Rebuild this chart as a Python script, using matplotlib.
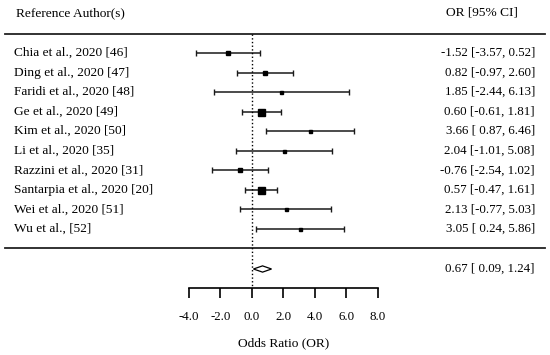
import matplotlib
matplotlib.use('Agg')
from matplotlib import pyplot as plt
from matplotlib.patches import Polygon

plt.rcParams['font.family'] = ['Liberation Serif', 'DejaVu Serif']
plt.rcParams['axes.unicode_minus'] = False

# 数据
studies = ['Chia et al., 2020 [46]', 'Ding et al., 2020 [47]', 'Faridi et al., 2020 [48]',
           'Ge et al., 2020 [49]', 'Kim et al., 2020 [50]', 'Li et al., 2020 [35]',
           'Razzini et al., 2020 [31]', 'Santarpia et al., 2020 [20]', 'Wei et al., 2020 [51]',
           'Wu et al., [52]']
odds = [-1.52, 0.82, 1.85, 0.60, 3.66, 2.04, -0.76, 0.57, 2.13, 3.05]
ci_low = [-3.57, -0.97, -2.44, -0.61, 0.87, -1.01, -2.54, -0.47, -0.77, 0.24]
ci_high = [0.52, 2.60, 6.13, 1.81, 6.46, 5.08, 1.02, 1.61, 5.03, 5.86]
pooled = 0.67
pooled_low = 0.09
pooled_high = 1.24
xticks = [-4.0, -2.0, 0.0, 2.0, 4.0, 6.0, 8.0]

# 方块大小 (px)
box_px = [4, 4, 3, 7, 3, 3, 4, 7, 3, 3]

W, H = 550, 355
fig = plt.figure(figsize=(W / 100, H / 100), dpi=100)
ax = fig.add_axes([0, 0, 1, 1])

# 像素 -> 数据坐标
x0_px, unit_px = 252, 15.75
row0_px, row_px = 53, 19.55
ax.set_xlim(-x0_px / unit_px, (W - x0_px) / unit_px)
ax.set_ylim((H - row0_px) / row_px, -row0_px / row_px)

def ry(py):
    return (py - row0_px) / row_px

def rx(px):
    return (px - x0_px) / unit_px

fs = 9.6   # 文字
fs_num = 9.3  # 数字列

n = len(studies)
for i in range(n):
    ax.errorbar(odds[i], i, xerr=[[odds[i] - ci_low[i]], [ci_high[i] - odds[i]]], fmt='none',
                ecolor='#1a1a1a', elinewidth=1.1, capsize=2.2, capthick=1.0)
    ax.plot(odds[i], i, marker='s', color='black', markersize=box_px[i] * 0.72, linestyle='none')
    ax.text(rx(14), i, studies[i], ha='left', va='center', fontsize=fs)
    ax.text(rx(535), i, '%.2f [%5.2f, %.2f]' % (odds[i], ci_low[i], ci_high[i]),
            ha='right', va='center', fontsize=fs_num)

# 表头
ax.text(rx(16), ry(13), 'Reference Author(s)', ha='left', va='center', fontsize=fs)
ax.text(rx(518), ry(13), 'OR [95% CI]', ha='right', va='center', fontsize=fs)

# 横线
ax.axhline(ry(34), xmin=5 / W, xmax=545 / W, color='#222222', lw=1.3)
ax.axhline(ry(248), xmin=5 / W, xmax=545 / W, color='#222222', lw=1.3)

# 合并效应
yd = ry(269)
h = 0.16
ax.add_patch(Polygon([[pooled_low, yd], [pooled, yd - h], [pooled_high, yd], [pooled, yd + h]],
                     closed=True, facecolor='white', edgecolor='black', lw=0.9))
ax.text(rx(535), yd, '%.2f [%5.2f, %.2f]' % (pooled, pooled_low, pooled_high),
        ha='right', va='center', fontsize=fs_num)

# 零线
ax.plot([0, 0], [ry(34), ry(288)], color='black', lw=1.0, linestyle=':')

# 坐标轴
for s in ['top', 'left', 'right']:
    ax.spines[s].set_visible(False)
ax.spines['bottom'].set_position(('data', ry(288)))
ax.spines['bottom'].set_bounds(xticks[0], xticks[-1])
ax.spines['bottom'].set_linewidth(1.2)
ax.set_xticks(xticks)
ax.set_xticklabels(['%.1f' % t for t in xticks], fontsize=fs_num)
ax.tick_params(axis='x', direction='out', length=7.5, width=1.2, pad=9)
ax.set_yticks([])
ax.text(rx(284), ry(343), 'Odds Ratio (OR)', ha='center', va='center', fontsize=fs)

fig.savefig('out.png', dpi=100)
